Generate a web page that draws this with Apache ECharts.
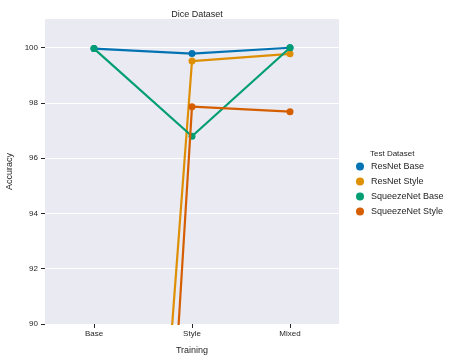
<!DOCTYPE html>
<html>
<head>
<meta charset="utf-8">
<script src="https://cdn.jsdelivr.net/npm/echarts@6/dist/echarts.min.js"></script>
<style>
  html, body { margin: 0; padding: 0; background: #fff; }
  #chart { width: 449px; height: 361px; }
</style>
</head>
<body>
<div id="chart"></div>
<script>
// training set on the x axis
const categories = ['Base', 'Style', 'Mixed'];
// accuracy per test dataset
const resnetBase = [99.96, 99.78, 99.99];
const resnetStyle = [52.4, 99.51, 99.77];
const squeezeBase = [99.96, 96.79, 99.99];
const squeezeStyle = [40.2, 97.86, 97.68];
const yTicks = [90, 92, 94, 96, 98, 100];

const seriesNames = ['ResNet Base', 'ResNet Style', 'SqueezeNet Base', 'SqueezeNet Style'];
const seriesData = [resnetBase, resnetStyle, squeezeBase, squeezeStyle];
const colors = ['#0173b2', '#de8f05', '#029e73', '#d55e00'];

const font = 'Liberation Sans, Arial, sans-serif';

let chart = echarts.init(document.getElementById('chart'));

let series = seriesNames.map((name, i) => {
  return {
    name: name,
    type: 'line',
    data: seriesData[i],
    symbol: 'circle',
    symbolSize: 7,
    clip: true,
    lineStyle: { width: 2.2, color: colors[i] },
    itemStyle: { color: colors[i] },
    z: 2 + i
  }
});

chart.setOption({
  animation: false,
  title: {
    text: 'Dice Dataset',
    left: 192,
    textAlign: 'center',
    top: 5,
    textStyle: { fontSize: 9, fontWeight: 'normal', color: '#262626', fontFamily: font }
  },
  grid: {
    left: 45, right: 110, top: 19, bottom: 37,
    outerBoundsMode: 'none',
    containLabel: false,
    show: true, backgroundColor: '#eaeaf2', borderWidth: 0
  },
  legend: {
    orient: 'vertical',
    left: 351,
    top: 157,
    icon: 'circle',
    itemWidth: 8,
    itemHeight: 8,
    itemGap: 6,
    data: seriesNames,
    textStyle: { fontSize: 9, color: '#262626', fontFamily: font, padding: [0, 0, 0, 2] }
  },
  graphic: [{
    type: 'text',
    left: 370,
    top: 150,
    style: { text: 'Test Dataset', fontSize: 8, fill: '#262626', fontFamily: font }
  }],
  xAxis: {
    type: 'category',
    data: categories,
    boundaryGap: true,
    name: 'Training',
    nameLocation: 'middle',
    nameGap: 22,
    nameTextStyle: { fontSize: 9, color: '#262626', fontFamily: font },
    axisLine: { show: false },
    axisTick: { show: true, alignWithLabel: true, length: 4, lineStyle: { color: '#262626' } },
    axisLabel: { fontSize: 8, color: '#262626', fontFamily: font, margin: 6 },
    splitLine: { show: false }
  },
  yAxis: {
    type: 'value',
    min: 90,
    max: 101.03,
    interval: 2,
    name: 'Accuracy',
    nameLocation: 'middle',
    nameGap: 30,
    nameTextStyle: { fontSize: 9, color: '#262626', fontFamily: font },
    axisLine: { show: false },
    axisTick: { show: true, length: 4, lineStyle: { color: '#262626' }, customValues: yTicks },
    axisLabel: {
      fontSize: 8, color: '#262626', fontFamily: font, margin: 7,
      customValues: yTicks,
      formatter: (v) => yTicks.indexOf(v) >= 0 ? String(v) : ''
    },
    splitLine: { show: true, lineStyle: { color: '#ffffff', width: 1 } }
  },
  series: series
});
</script>
</body>
</html>
